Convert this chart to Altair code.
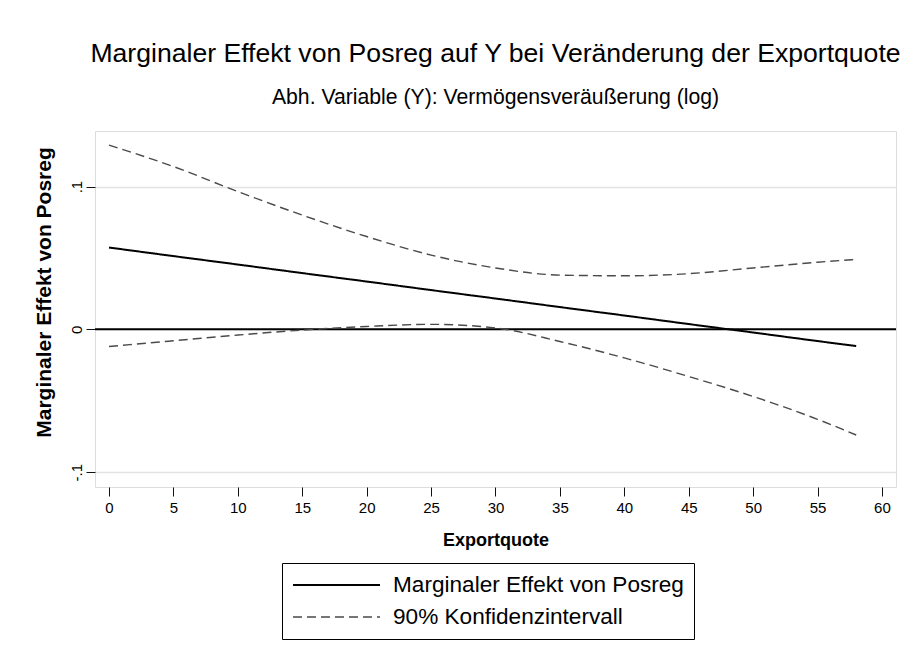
import altair as alt
import pandas as pd

LAB_MAIN = "Marginaler Effekt von Posreg"
LAB_CI = "90% Konfidenzintervall"

x_vals = [0, 5, 10, 15, 20, 25, 30, 35, 40, 45, 50, 55, 58]
effect = [0.0573, 0.0513, 0.0454, 0.0394, 0.0335, 0.0275, 0.0216, 0.0156, 0.0097, 0.0037, -0.0022, -0.0082, -0.0117]
upper = [0.129, 0.114, 0.0965, 0.080, 0.065, 0.052, 0.043, 0.038, 0.0375, 0.039, 0.043, 0.047, 0.049]
lower = [-0.012, -0.008, -0.004, -0.0005, 0.002, 0.0035, 0.001, -0.0085, -0.020, -0.033, -0.047, -0.063, -0.074]
x_ticks = [0, 5, 10, 15, 20, 25, 30, 35, 40, 45, 50, 55, 60]
y_ticks = [-0.1, 0, 0.1]

rows = []
for i, xv in enumerate(x_vals):
    rows.append({"x": xv, "y": effect[i], "typ": LAB_MAIN, "band": "main"})
    rows.append({"x": xv, "y": upper[i], "typ": LAB_CI, "band": "upper"})
    rows.append({"x": xv, "y": lower[i], "typ": LAB_CI, "band": "lower"})
df = pd.DataFrame(rows)

FONT = "Liberation Sans, Arial, sans-serif"
W, H = 801, 356

xscale = alt.Scale(domain=[-1.087, 61.09], nice=False, zero=False)
yscale = alt.Scale(domain=[-0.1104, 0.1389], nice=False, zero=False)

leg = alt.Legend(
    title=None, orient="none", legendX=187, legendY=432,
    direction="vertical", symbolType="stroke", symbolSize=7569,
    clipHeight=24, rowPadding=8, padding=10, strokeColor="#000000",
    fillColor="#ffffff", labelOffset=12, labelFontSize=22.6, labelFont=FONT,
    labelColor="#000000", labelLimit=500,
)

typ_domain = [LAB_MAIN, LAB_CI]

lines = alt.Chart(df).mark_line(interpolate="monotone").encode(
    x=alt.X("x:Q", scale=xscale, axis=alt.Axis(
        values=x_ticks, grid=False, domain=False, tickSize=9, tickColor="#111111",
        tickWidth=1, labelFontSize=15, labelFont=FONT, labelColor="#000000",
        labelPadding=4, title="Exportquote", titleFont=FONT, titleFontSize=18,
        titleFontWeight="bold", titleColor="#000000", titleX=W / 2, titleY=53,
        titleAlign="center", titleBaseline="middle")),
    y=alt.Y("y:Q", scale=yscale, axis=alt.Axis(
        values=y_ticks, grid=True, gridColor="#e3e3e3", gridWidth=1.6,
        domain=False, tickSize=9, tickColor="#111111", tickWidth=1,
        labelAngle=270, labelAlign="center", labelBaseline="bottom",
        labelPadding=2, labelFontSize=15, labelFont=FONT, labelColor="#000000",
        labelExpr="datum.value == 0 ? '0' : (datum.value < 0 ? '-' : '') + replace(format(abs(datum.value), '.1f'), '0.', '.')",
        title=LAB_MAIN, titleFont=FONT, titleFontSize=21, titleFontWeight="bold",
        titleColor="#000000", titleAngle=270, titleX=-51, titleY=161,
        titleAlign="center", titleBaseline="middle")),
    color=alt.Color("typ:N", scale=alt.Scale(domain=typ_domain, range=["#000000", "#4a4a4a"]), legend=leg),
    strokeDash=alt.StrokeDash("typ:N", scale=alt.Scale(domain=typ_domain, range=[[1, 0], [9, 5]]), legend=leg),
    strokeWidth=alt.StrokeWidth("typ:N", scale=alt.Scale(domain=typ_domain, range=[2, 1.4]), legend=leg),
    detail="band:N",
)

zero_df = pd.DataFrame({"y0": [0]})
zero = alt.Chart(zero_df).mark_rule(color="#000000", strokeWidth=2).encode(
    y=alt.Y("y0:Q", scale=yscale)
)

chart = alt.layer(zero, lines).properties(
    width=W, height=H,
    autosize=alt.AutoSizeParams(type="none"),
    padding={"left": 87, "top": 123, "right": 10, "bottom": 164},
    title=alt.TitleParams(
        text="Marginaler Effekt von Posreg auf Y bei Veränderung der Exportquote",
        subtitle="Abh. Variable (Y): Vermögensveräußerung (log)",
        font=FONT, fontSize=26.6, fontWeight="normal", color="#000000",
        subtitleFont=FONT, subtitleFontSize=21.2, subtitleFontWeight="normal",
        subtitleColor="#000000", subtitlePadding=19, anchor="middle", offset=23,
    ),
).configure_view(strokeWidth=0).configure(background="#ffffff")

chart.save("out.html", embed_options={"renderer": "svg", "actions": False})
